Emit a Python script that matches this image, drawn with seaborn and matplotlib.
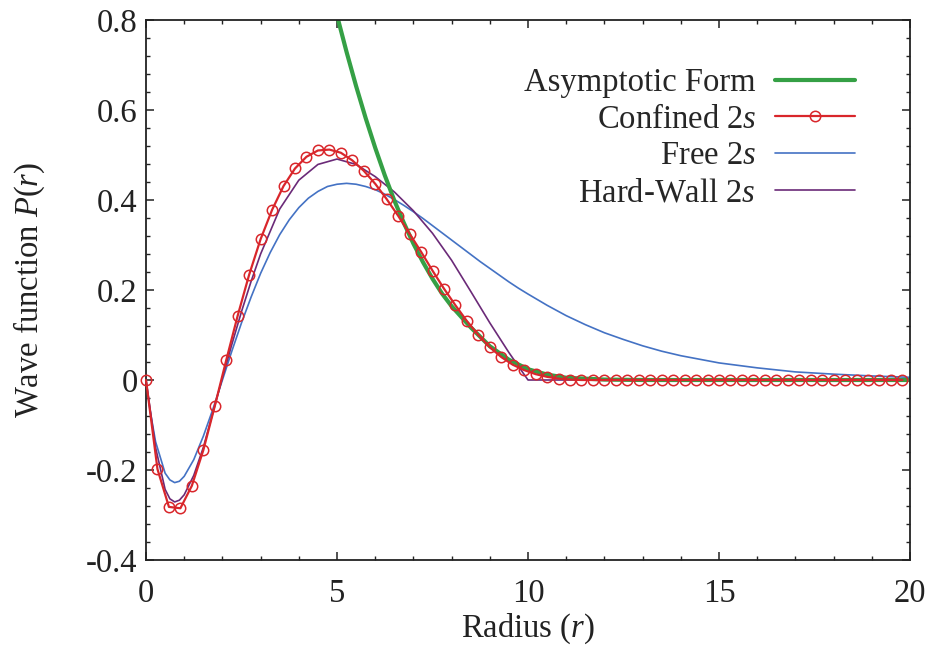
import matplotlib
matplotlib.use('Agg')
import matplotlib.pyplot as plt
import seaborn as sns

# values
# Confined 2s (red, circles every 0.3)
conf_r = [0.0, 0.3, 0.6, 0.9, 1.2, 1.5, 1.8, 2.1, 2.4, 2.7,
          3.0, 3.3, 3.6, 3.9, 4.2, 4.5, 4.8, 5.1, 5.4, 5.7,
          6.0, 6.3, 6.6, 6.9, 7.2, 7.5, 7.8, 8.1, 8.4, 8.7,
          9.0, 9.3, 9.6, 9.9, 10.2, 10.5, 10.8, 11.1, 11.4, 11.7,
          12.0, 12.3, 12.6, 12.9, 13.2, 13.5, 13.8, 14.1, 14.4, 14.7,
          15.0, 15.3, 15.6, 15.9, 16.2, 16.5, 16.8, 17.1, 17.4, 17.7,
          18.0, 18.3, 18.6, 18.9, 19.2, 19.5, 19.8]
conf_p = [0.0, -0.198, -0.282, -0.285, -0.235, -0.156, -0.058, 0.044, 0.143, 0.234,
          0.313, 0.378, 0.431, 0.470, 0.496, 0.510, 0.512, 0.505, 0.488, 0.465,
          0.436, 0.402, 0.365, 0.325, 0.285, 0.243, 0.203, 0.166, 0.131, 0.100,
          0.073, 0.051, 0.034, 0.022, 0.013, 0.007, 0.003, 0.001, 0.0, 0.0,
          0.0, 0.0, 0.0, 0.0, 0.0, 0.0, 0.0, 0.0, 0.0, 0.0,
          0.0, 0.0, 0.0, 0.0, 0.0, 0.0, 0.0, 0.0, 0.0, 0.0,
          0.0, 0.0, 0.0, 0.0, 0.0, 0.0, 0.0]

# Free 2s (blue)
free_r = [0.0, 0.1, 0.25, 0.5, 0.625, 0.75, 0.875, 1.0, 1.25, 1.5, 1.75, 2.0, 2.25,
          2.5, 2.75, 3.0, 3.25, 3.5, 3.75, 4.0, 4.25, 4.5, 4.75, 5.0, 5.25, 5.5,
          5.75, 6.0, 6.25, 6.5, 6.75, 7.0, 7.25, 7.5, 7.75, 8.0, 8.25, 8.5, 8.75,
          9.0, 9.25, 9.5, 9.75, 10.0, 10.5, 11.0, 11.5, 12.0, 12.5, 13.0, 13.5,
          14.0, 15.0, 16.0, 17.0, 18.0, 19.0, 20.0]
free_p = [0.0, -0.064, -0.137, -0.207, -0.222, -0.228, -0.225, -0.214, -0.177,
          -0.125, -0.065, 0.0, 0.065, 0.127, 0.184, 0.237, 0.283, 0.323, 0.356,
          0.383, 0.404, 0.419, 0.430, 0.435, 0.437, 0.435, 0.430, 0.423, 0.413,
          0.401, 0.388, 0.374, 0.359, 0.343, 0.327, 0.311, 0.295, 0.279, 0.263,
          0.248, 0.233, 0.218, 0.204, 0.191, 0.166, 0.143, 0.123, 0.105, 0.090,
          0.076, 0.064, 0.054, 0.038, 0.027, 0.018, 0.013, 0.009, 0.006]

# Hard-Wall 2s (purple)
wall_r = [0.0, 0.25, 0.5, 0.625, 0.75, 0.875, 1.0, 1.25, 1.5, 1.75, 2.0, 2.25, 2.5,
          2.75, 3.0, 3.5, 4.0, 4.5, 5.0, 5.5, 6.0, 6.5, 7.0, 7.5, 8.0, 8.5, 9.0,
          9.5, 10.0, 20.0]
wall_p = [0.0, -0.15, -0.243, -0.264, -0.271, -0.267, -0.255, -0.212, -0.15, -0.073,
          0.005, 0.08, 0.152, 0.219, 0.28, 0.38, 0.444, 0.479, 0.491, 0.479, 0.452,
          0.418, 0.376, 0.326, 0.266, 0.197, 0.127, 0.061, 0.0, 0.0]

# Asymptotic form (green)
asym_r = [4.9, 5.0, 5.25, 5.5, 5.75, 6.0, 6.25, 6.5, 6.75, 7.0, 7.25, 7.5, 7.75, 8.0,
          8.5, 9.0, 9.5, 10.0, 10.5, 11.0, 12.0, 13.0, 20.0]
asym_p = [0.85, 0.81, 0.729, 0.653, 0.582, 0.516, 0.455, 0.399, 0.349, 0.303, 0.262,
          0.225, 0.192, 0.164, 0.117, 0.075, 0.045, 0.024, 0.012, 0.005, 0.001, 0.0, 0.0]

ytick_vals = [-0.4, -0.2, 0.0, 0.2, 0.4, 0.6, 0.8]
ytick_labels = ['-0.4', '-0.2', '0', '0.2', '0.4', '0.6', '0.8']
xtick_vals = [0, 5, 10, 15, 20]

sns.set_theme(style='ticks')
plt.rcParams['font.family'] = ['Liberation Serif', 'DejaVu Serif']
plt.rcParams['mathtext.fontset'] = 'custom'
plt.rcParams['mathtext.rm'] = 'Liberation Serif'
plt.rcParams['mathtext.it'] = 'Liberation Serif:italic'

fs = 23.5

fig, ax = plt.subplots(figsize=(9.3, 6.53), dpi=100)
fig.subplots_adjust(left=0.157, right=0.9785, top=0.9694, bottom=0.1424)

green = '#35a045'
red = '#d9262b'
blue = '#4472c4'
purple = '#6b2a78'

sns.lineplot(x=free_r, y=free_p, ax=ax, color=blue, linewidth=1.2,
             label='Free 2$s$', zorder=2)
sns.lineplot(x=wall_r, y=wall_p, ax=ax, color=purple, linewidth=1.2,
             label='Hard-Wall 2$s$', zorder=2.1)
sns.lineplot(x=asym_r, y=asym_p, ax=ax, color=green, linewidth=3,
             label='Asymptotic Form', zorder=2.2)
sns.lineplot(x=conf_r, y=conf_p, ax=ax, color=red, linewidth=1.6,
             marker='o', markersize=7.5, markerfacecolor='none',
             markeredgecolor=red, markeredgewidth=1.1,
             label='Confined 2$s$', zorder=3, clip_on=False)

ax.set_xlim(0, 20)
ax.set_ylim(-0.4, 0.8)
ax.set_xticks(xtick_vals)
ax.set_yticks(ytick_vals)
ax.set_yticklabels(ytick_labels)
ax.set_xticks([1, 2, 3, 4, 6, 7, 8, 9, 11, 12, 13, 14, 16, 17, 18, 19], minor=True)
ax.set_yticks([-0.36, -0.32, -0.28, -0.24, -0.16, -0.12, -0.08, -0.04,
               0.04, 0.08, 0.12, 0.16, 0.24, 0.28, 0.32, 0.36,
               0.44, 0.48, 0.52, 0.56, 0.64, 0.68, 0.72, 0.76], minor=True)

ax.tick_params(which='both', direction='in', top=True, right=True,
               color='#222222', labelcolor='#222222', labelsize=fs)
ax.tick_params(which='major', length=6, width=1.1)
ax.tick_params(which='minor', length=3, width=1.0)
ax.tick_params(axis='x', pad=13)
ax.tick_params(axis='y', pad=6)
for s in ax.spines.values():
    s.set_linewidth(1.3)
    s.set_color('#222222')

ax.set_xlabel('Radius ($r$)', fontsize=fs, color='#222222', labelpad=2)
ax.set_ylabel('Wave function $P(r)$', fontsize=fs, color='#222222', labelpad=28)

# legend in gnuplot order, text right-aligned with sample on the right
handles, labels = ax.get_legend_handles_labels()
order = ['Asymptotic Form', 'Confined 2$s$', 'Free 2$s$', 'Hard-Wall 2$s$']
hmap = dict(zip(labels, handles))
ax.legend([hmap[k] for k in order], order, loc='upper right',
          bbox_to_anchor=(0.928, 0.912), frameon=False, markerfirst=False,
          handlelength=2.45, handletextpad=0.58, labelspacing=0.19,
          fontsize=fs, borderpad=0, borderaxespad=0)

plt.savefig('out.png', dpi=100)
plt.close()
